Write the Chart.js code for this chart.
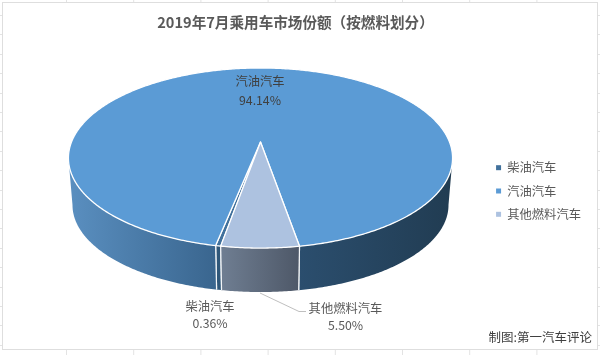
<!DOCTYPE html>
<html>
<head>
<meta charset="utf-8">
<title>2019年7月乘用车市场份额</title>
<script src="https://cdn.jsdelivr.net/npm/chart.js@4"></script>
<style>
  html, body { margin: 0; padding: 0; background: #fff; }
  canvas { display: block; }
</style>
</head>
<body>
<canvas id="pie" width="600" height="355"></canvas>
<script>
const categories = ['柴油汽车', '汽油汽车', '其他燃料汽车'];
const shares = [0.36, 94.14, 5.50];
const shareLabels = ['0.36%', '94.14%', '5.50%'];
const topColors = ['#41719c', '#5b9bd5', '#adc2e0'];

const FONT = '"Noto Sans CJK SC", "Noto Sans", sans-serif';

// Excel's 3D pie is a circle seen in perspective, so the hub sits above the ellipse middle
const persp = -0.178;
const topRim = { cx: 260.5, cy: 142, kx: 189, ky: 87.2 };
const lowRim = { cx: 260.5, cy: 189.6, kx: 185, ky: 84.2 };
// angle where the rim is widest, the wall's outline starts there
const edgeAngle = Math.asin(-persp);

function project(rim, a) {
  const u = Math.cos(a), v = Math.sin(a);
  const w = 1 + persp * v;
  return [rim.cx + rim.kx * u / w, rim.cy + rim.ky * v / w];
}

function wallGradient(ctx, i) {
  let g;
  if (i === 2) {
    g = ctx.createLinearGradient(221, 0, 299, 0);
    g.addColorStop(0, '#6f7e92');
    g.addColorStop(1, '#4e5868');
  } else if (i === 0) {
    return '#2f5779';
  } else {
    g = ctx.createLinearGradient(69, 0, 452, 0);
    g.addColorStop(0, '#5a8fc0');
    g.addColorStop(0.38, '#3a668f');
    g.addColorStop(0.6, '#2b4e6e');
    g.addColorStop(1, '#213c52');
  }
  return g;
}

// walls first, then the top face, all from the angles Chart.js worked out
const pie3d = {
  id: 'pie3d',
  beforeDatasetsDraw(chart) {
    const { ctx } = chart;
    const arcs = chart.getDatasetMeta(0).data;
    ctx.save();
    arcs.forEach((arc, i) => {
      // only the part of the arc facing the viewer has a wall
      const two = Math.PI * 2;
      let s = arc.startAngle, e = arc.endAngle;
      while (s > Math.PI) { s -= two; e -= two; }
      while (s < -Math.PI) { s += two; e += two; }
      const spans = [];
      for (const k of [-1, 0, 1]) {
        const a = Math.max(s + k * two, edgeAngle), b = Math.min(e + k * two, Math.PI - edgeAngle);
        if (b > a) spans.push([a, b]);
      }
      spans.forEach(([a, b]) => {
        ctx.beginPath();
        for (let t = a; t < b; t += 0.01) ctx.lineTo(...project(topRim, t));
        ctx.lineTo(...project(topRim, b));
        ctx.lineTo(...project(lowRim, b));
        for (let t = b; t > a; t -= 0.01) ctx.lineTo(...project(lowRim, t));
        ctx.lineTo(...project(lowRim, a));
        ctx.closePath();
        ctx.fillStyle = wallGradient(ctx, i);
        ctx.fill();
        ctx.strokeStyle = '#f4f6f8';
        ctx.lineWidth = 1.2;
        [a, b].forEach((t) => {
          if (t > edgeAngle + 0.05 && t < Math.PI - edgeAngle - 0.05) {
            ctx.beginPath();
            ctx.moveTo(...project(topRim, t));
            ctx.lineTo(...project(lowRim, t));
            ctx.stroke();
          }
        });
      });
    });
    arcs.forEach((arc, i) => {
      ctx.beginPath();
      ctx.moveTo(topRim.cx, topRim.cy);
      for (let t = arc.startAngle; t < arc.endAngle; t += 0.01) ctx.lineTo(...project(topRim, t));
      ctx.lineTo(...project(topRim, arc.endAngle));
      ctx.closePath();
      ctx.fillStyle = topColors[i];
      ctx.fill();
      ctx.strokeStyle = '#ffffff';
      ctx.lineWidth = 1.3;
      ctx.lineJoin = 'round';
      ctx.stroke();
    });
    ctx.restore();
    return false;
  },
  afterDraw(chart) {
    const { ctx } = chart;
    ctx.save();
    ctx.strokeStyle = '#bfbfbf';
    ctx.lineWidth = 1;
    ctx.beginPath();
    ctx.moveTo(260, 293);
    ctx.lineTo(299, 311.5);
    ctx.lineTo(306, 311.5);
    ctx.stroke();

    ctx.textAlign = 'center';
    ctx.textBaseline = 'middle';
    ctx.font = '12.3px ' + FONT;
    const spots = [[210, 306, 323], [260, 81, 100], [345.5, 308, 325]];
    spots.forEach(([x, y1, y2], i) => {
      ctx.fillStyle = i === 1 ? '#404040' : '#595959';
      ctx.fillText(categories[i], x, y1);
      ctx.fillText(shareLabels[i], x, y2);
    });

    ctx.textAlign = 'right';
    ctx.font = '12.5px ' + FONT;
    ctx.fillStyle = '#404040';
    ctx.fillText('制图:第一汽车评论', 592, 337);
    ctx.restore();
  }
};

// spreadsheet cells showing round the edge of the chart box
const sheet = {
  id: 'sheet',
  beforeDraw(chart) {
    const { ctx } = chart;
    ctx.save();
    ctx.strokeStyle = '#e3e3e3';
    ctx.lineWidth = 1;
    for (let x = 66; x < 600; x += 67.2) {
      ctx.beginPath(); ctx.moveTo(x + 0.5, 0); ctx.lineTo(x + 0.5, 355); ctx.stroke();
    }
    for (let y = 15; y < 355; y += 19.4) {
      ctx.beginPath(); ctx.moveTo(0, Math.round(y) + 0.5); ctx.lineTo(600, Math.round(y) + 0.5); ctx.stroke();
    }
    ctx.fillStyle = '#ffffff';
    ctx.fillRect(2.5, 2.5, 595, 347);
    ctx.strokeStyle = '#dedede';
    ctx.strokeRect(2.5, 2.5, 595, 347);
    ctx.restore();
  }
};

new Chart(document.getElementById('pie'), {
  type: 'pie',
  data: {
    labels: categories,
    datasets: [{
      data: shares,
      backgroundColor: topColors,
      borderWidth: 0
    }]
  },
  options: {
    responsive: false,
    animation: false,
    rotation: 190,
    layout: { padding: { top: 12, right: 9, bottom: -15 } },
    plugins: {
      tooltip: { enabled: false },
      title: {
        display: true,
        text: '2019年7月乘用车市场份额（按燃料划分）',
        color: '#595959',
        font: { family: FONT, size: 14.6, weight: 'bold' },
        padding: { top: 2, bottom: 10 }
      },
      legend: {
        position: 'right',
        labels: {
          boxWidth: 5,
          boxHeight: 5,
          padding: 11,
          color: '#595959',
          font: { family: FONT, size: 12.3 }
        }
      }
    }
  },
  plugins: [sheet, pie3d]
});
</script>
</body>
</html>
